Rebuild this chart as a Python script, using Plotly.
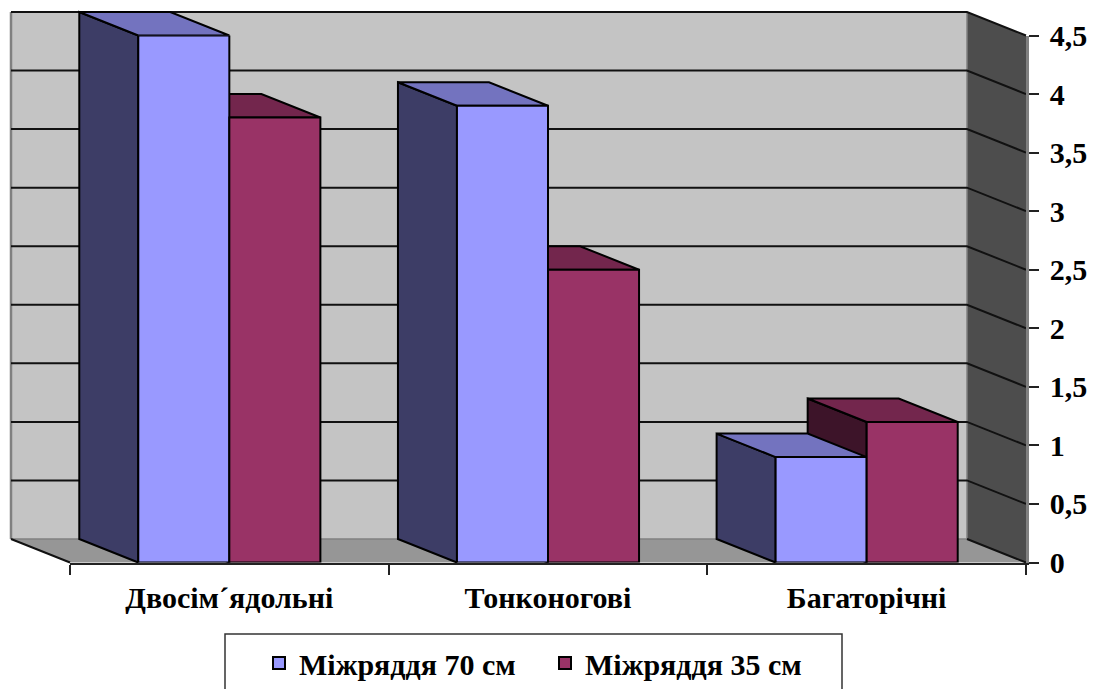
import plotly.graph_objects as go

# Chart data
categories = ["Двосім´ядольні", "Тонконогові", "Багаторічні"]
series_names = ["Міжряддя 70 см", "Міжряддя 35 см"]
values_70 = [4.5, 3.9, 0.9]
values_35 = [3.8, 2.5, 1.2]
tick_values = [0, 0.5, 1, 1.5, 2, 2.5, 3, 3.5, 4, 4.5]
tick_labels = ["0", "0,5", "1", "1,5", "2", "2,5", "3", "3,5", "4", "4,5"]

# Page and axis geometry (pixels)
W, H = 1096, 689
AX_LEFT, AX_RIGHT = 70.0, 1026.0
AX_BOTTOM, AX_TOP = 562.5, 35.5
CAT_PX = (AX_RIGHT - AX_LEFT) / len(categories)
VAL_PX = (AX_BOTTOM - AX_TOP) / 4.5

# Oblique projection offset, expressed in axis units
DX = -59.0 / CAT_PX
DY = 23.5 / VAL_PX

# Bars occupy 2 of 3.5 slots in each category
BAR_W = 1 / 3.5

COLORS = [
    {"front": "#9999FF", "top": "#7373BF", "side": "#3D3D66"},
    {"front": "#993366", "top": "#73264D", "side": "#3D1429"},
]
LINE = "#000000"
XMIN, XMAX = -0.5, len(categories) - 0.5
YMAX = tick_values[-1]

fig = go.Figure()


def polygon(xs, ys, fill, line=LINE, width=2):
    fig.add_trace(go.Scatter(
        x=xs + xs[:1], y=ys + ys[:1], mode="lines", fill="toself",
        fillcolor=fill, line=dict(color=line, width=width),
        hoverinfo="skip", showlegend=False, xaxis="x", yaxis="y",
    ))


def segment(xs, ys, color=LINE, width=2):
    fig.add_trace(go.Scatter(
        x=xs, y=ys, mode="lines", line=dict(color=color, width=width),
        hoverinfo="skip", showlegend=False, xaxis="x", yaxis="y",
    ))


# Walls and floor of the box
polygon([XMIN + DX, XMAX + DX, XMAX + DX, XMIN + DX], [DY, DY, YMAX + DY, YMAX + DY],
        "#C4C4C4", line="#C4C4C4", width=0)
polygon([XMAX + DX, XMAX, XMAX, XMAX + DX], [DY, 0, YMAX, YMAX + DY],
        "#4D4D4D", line="#4D4D4D", width=0)
polygon([XMIN + DX, XMAX + DX, XMAX, XMIN], [DY, DY, 0, 0],
        "#969696", line="#969696", width=0)

# Light edges where the planes meet
segment([XMIN + DX, XMIN + DX], [DY, YMAX + DY], "#808080", 2.5)
segment([XMAX + DX, XMAX + DX], [DY, YMAX + DY], "#808080", 1.5)
segment([XMIN + DX, XMAX + DX], [DY, DY], "#808080", 1.5)

# Gridlines run along the back wall, then down the side wall to the axis
for tick in tick_values[1:]:
    segment([XMIN + DX, XMAX + DX, XMAX], [tick + DY, tick + DY, tick], "#111111", 2)
segment([XMIN + DX, XMIN], [DY, 0], "#111111", 2)
segment([XMAX + DX, XMAX], [DY, 0], "#111111", 2)

# Side and top faces: rear series first so the nearer one overlaps it
for s, values in reversed(list(enumerate([values_70, values_35]))):
    for i, v in enumerate(values):
        left = i - BAR_W + s * BAR_W
        right = left + BAR_W
        polygon([left, left + DX, left + DX, left], [0, DY, v + DY, v], COLORS[s]["side"])
        polygon([left, left + DX, right + DX, right], [v, v + DY, v + DY, v], COLORS[s]["top"])

# Front faces are ordinary grouped bars on the visible axes
for s, values in enumerate([values_70, values_35]):
    fig.add_trace(go.Bar(
        x=categories, y=values, name=series_names[s], xaxis="x2", yaxis="y2",
        marker=dict(color=COLORS[s]["front"], line=dict(color=LINE, width=2)),
        cliponaxis=False, hoverinfo="skip",
    ))

label_font = dict(family="Liberation Serif", size=30, color="#000000", weight=700)

fig.update_layout(
    width=W, height=H, autosize=False,
    margin=dict(l=0, r=0, t=0, b=0, autoexpand=False),
    paper_bgcolor="white", plot_bgcolor="rgba(0,0,0,0)",
    barmode="group", bargap=1.5 / 3.5, bargroupgap=0,
    # Full-page helper axes carrying the projected faces
    xaxis=dict(visible=False, domain=[0, 1], fixedrange=True,
               range=[XMIN - AX_LEFT / CAT_PX, XMIN + (W - AX_LEFT) / CAT_PX]),
    yaxis=dict(visible=False, domain=[0, 1], fixedrange=True,
               range=[-(H - AX_BOTTOM) / VAL_PX, AX_BOTTOM / VAL_PX]),
    # Visible axes sitting on the front plane
    xaxis2=dict(
        domain=[AX_LEFT / W, AX_RIGHT / W], anchor="y2", type="category",
        categoryorder="array", categoryarray=categories, range=[XMIN, XMAX],
        tickson="boundaries", ticks="outside", ticklen=10, tickwidth=1.5, tickcolor="#222222",
        showline=True, linecolor="#222222", linewidth=2, showgrid=False, zeroline=False,
        tickfont=label_font, ticklabelstandoff=7,
    ),
    yaxis2=dict(
        domain=[(H - AX_BOTTOM) / H, (H - AX_TOP) / H], anchor="x2", side="right",
        range=[0, YMAX], tickmode="array", tickvals=tick_values, ticktext=tick_labels,
        ticks="outside", ticklen=10, tickwidth=1.5, tickcolor="#222222",
        showline=True, linecolor="#808080", linewidth=2.5, showgrid=False, zeroline=False,
        tickfont=label_font, ticklabelstandoff=5,
    ),
    legend=dict(
        orientation="h", x=259 / W, y=1 - 637 / H, xanchor="left", yanchor="top",
        font=dict(family="Liberation Serif", size=30, color="#000000", weight=700),
        bgcolor="rgba(0,0,0,0)", borderwidth=0,
        entrywidth=241, entrywidthmode="pixels", traceorder="normal", itemclick=False,
    ),
    shapes=[dict(
        type="rect", xref="paper", yref="paper", layer="below",
        x0=225 / W, x1=842 / W, y0=-10 / H, y1=1 - 634 / H,
        line=dict(color="#333333", width=1.5), fillcolor="white",
    )],
)

fig.write_html("out.html", config={"displayModeBar": False})
